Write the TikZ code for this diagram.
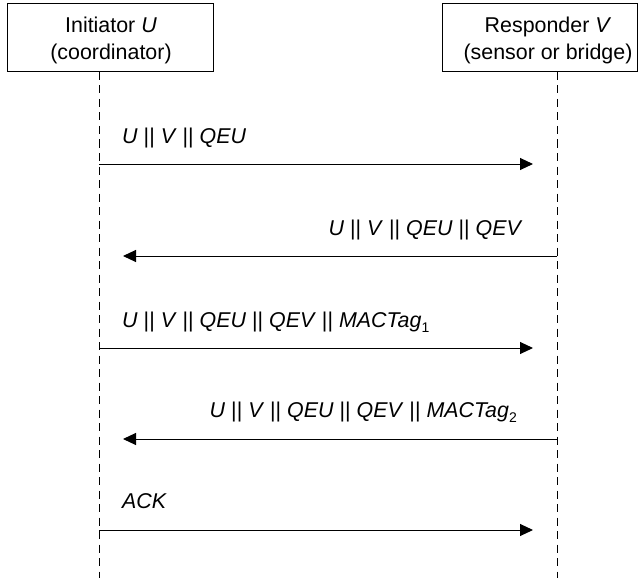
\documentclass[tikz,border=0pt]{standalone}
\usepackage{fontspec}
\setmainfont{Liberation Sans}
\usetikzlibrary{arrows.meta}
\tikzset{
  x=1pt,y=-1pt,
  every node/.style={font=\fontsize{21.4}{27}\selectfont},
  lifeline/.style={line width=1pt,dash pattern=on 8pt off 5.5pt},
  msg/.style={line width=1pt,-{Triangle[length=13pt,width=12pt]}},
  lbl/.style={inner sep=0pt,font=\fontsize{21.4}{27}\selectfont\itshape}
}
\newcommand{\sbar}{ \textup{||} }
\newcommand{\subx}[1]{\raisebox{-5pt}{\fontsize{14}{14}\selectfont\upshape #1}}
\begin{document}
\begin{tikzpicture}
\useasboundingbox (0,0) rectangle (638,578);
% boxes
\draw[line width=1pt] (7,4) rectangle (213,72);
\draw[line width=1pt] (442,4) rectangle (637,72);
\node[inner sep=0pt,anchor=base] (ut) at (111,33) {Initiator \textit{U}};
\node[inner sep=0pt,anchor=base] (ub) at (111,60) {(coordinator)};
\node[inner sep=0pt,anchor=base] (vt) at (548,33) {Responder \textit{V}};
\node[inner sep=0pt,anchor=base] (vb) at (548,60) {(sensor or bridge)};
\coordinate (U0) at (99,72);
\coordinate (U1) at (99,578);
\coordinate (V0) at (557,72);
\coordinate (V1) at (557,578);
\draw[lifeline] (U0) -- (U1);
\draw[lifeline] (V0) -- (V1);
% messages
\coordinate (a1s) at (99,164);  \coordinate (a1e) at (533,164);
\coordinate (a2s) at (557,256); \coordinate (a2e) at (123,256);
\coordinate (a3s) at (99,348);  \coordinate (a3e) at (533,348);
\coordinate (a4s) at (557,439); \coordinate (a4e) at (123,439);
\coordinate (a5s) at (99,530);  \coordinate (a5e) at (533,530);
\draw[msg] (a1s) -- (a1e);
\draw[msg] (a2s) -- (a2e);
\draw[msg] (a3s) -- (a3e);
\draw[msg] (a4s) -- (a4e);
\draw[msg] (a5s) -- (a5e);
\node[lbl,anchor=base west] (l1) at (122,143) {U\sbar V\sbar QEU};
\node[lbl,anchor=base east] (l2) at (521,235) {U\sbar V\sbar QEU\sbar QEV};
\node[lbl,anchor=base west] (l3) at (122,327) {U\sbar V\sbar QEU\sbar QEV\sbar MACTag\subx{1}};
\node[lbl,anchor=base east] (l4) at (517,417) {U\sbar V\sbar QEU\sbar QEV\sbar MACTag\subx{2}};
\node[lbl,anchor=base west] (l5) at (122,508) {ACK};
\end{tikzpicture}
\end{document}
